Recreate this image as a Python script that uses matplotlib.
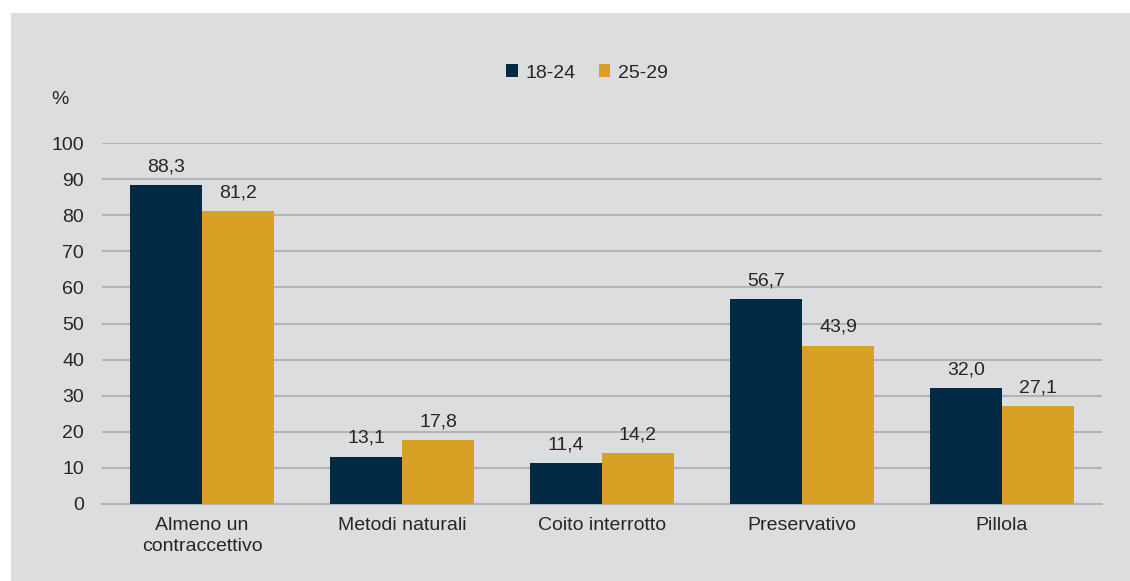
import matplotlib.pyplot as plt
import numpy as np
from matplotlib.patches import Rectangle

plt.rcParams['font.family'] = ['Liberation Sans', 'DejaVu Sans']

categorie = ['Almeno un\ncontraccettivo', 'Metodi naturali', 'Coito interrotto',
             'Preservativo', 'Pillola']
eta_18_24 = [88.3, 13.1, 11.4, 56.7, 32.0]
eta_25_29 = [81.2, 17.8, 14.2, 43.9, 27.1]
serie = ['18-24', '25-29']

blu = '#022a44'
oro = '#d8a024'
sfondo = '#dcdddf'
testo = '#262626'
fs = 14

fig = plt.figure(figsize=(11.3, 5.81), dpi=100, facecolor='white')
# pannello grigio dietro al grafico
fig.patches.append(Rectangle((11 / 1130, 0), 1, 1 - 13 / 581,
                             transform=fig.transFigure, facecolor=sfondo,
                             edgecolor='none', zorder=-1))

ax = fig.add_axes([102 / 1130, 1 - 504 / 581, 1000 / 1130, 361 / 581])
ax.set_facecolor('none')

x = np.arange(len(categorie))
w = 0.36
b1 = ax.bar(x - w / 2, eta_18_24, w, color=blu, label=serie[0], zorder=3)
b2 = ax.bar(x + w / 2, eta_25_29, w, color=oro, label=serie[1], zorder=3)

for bars, vals in ((b1, eta_18_24), (b2, eta_25_29)):
    for r, v in zip(bars, vals):
        ax.annotate(f'{v:.1f}'.replace('.', ','),
                    (r.get_x() + r.get_width() / 2, v),
                    xytext=(0, 7), textcoords='offset points',
                    ha='center', va='bottom', fontsize=fs, color=testo)

ax.set_xlim(-0.5, 4.5)
ax.set_ylim(0, 100)
ax.set_yticks(range(0, 101, 10))
ax.yaxis.grid(True, color='#b4b4b4', linewidth=1.5, zorder=0)
ax.set_xticks(x)
ax.set_xticklabels(categorie, fontsize=fs, color=testo, linespacing=1.35)
ax.tick_params(axis='both', length=0, labelsize=fs, colors=testo)
ax.tick_params(axis='y', pad=13)
ax.tick_params(axis='x', pad=9)
for s in ['top', 'right', 'left']:
    ax.spines[s].set_visible(False)
ax.spines['bottom'].set_color('#b4b4b4')
ax.spines['bottom'].set_linewidth(1.5)

ax.text(60 / 1130, 1 - 100 / 581, '%', transform=fig.transFigure,
        fontsize=fs, color=testo, ha='center', va='center')

fig.legend(loc='center', bbox_to_anchor=(587 / 1130, 1 - 73 / 581), ncol=2,
           frameon=False, fontsize=fs, handlelength=0.6, handleheight=0.6,
           handletextpad=0.4, columnspacing=1.2, labelcolor=testo)

fig.savefig('out.png', dpi=100, facecolor='white')
